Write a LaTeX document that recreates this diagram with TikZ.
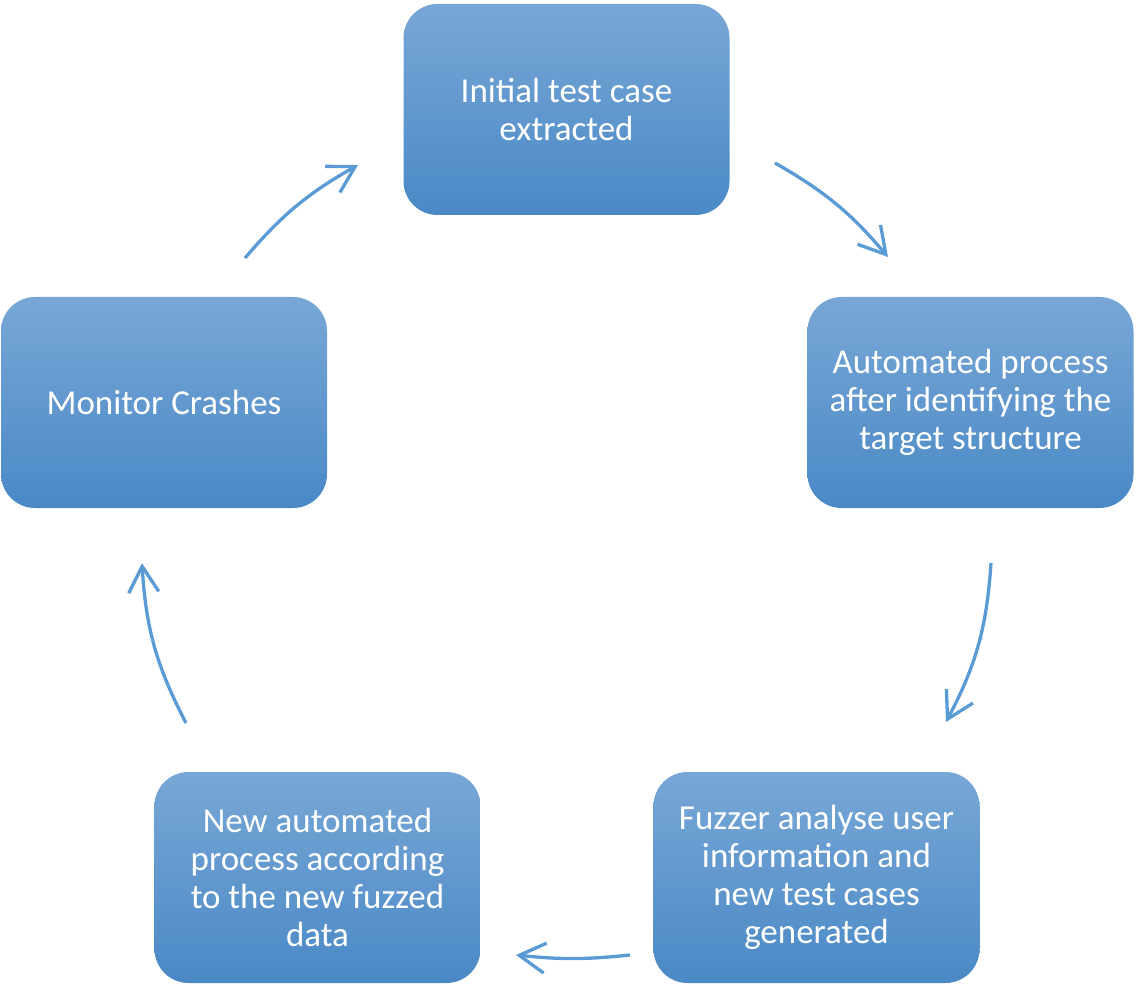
\documentclass[tikz,border=0pt]{standalone}
\usepackage{fontspec}
\setmainfont{Carlito}
\usetikzlibrary{arrows.meta}
\definecolor{boxtop}{RGB}{120,167,214}
\definecolor{boxbot}{RGB}{74,137,198}
\definecolor{arr}{RGB}{91,155,213}
\begin{document}
\begin{tikzpicture}[x=1pt,y=1pt,
  stagebox/.style={rounded corners=34pt, top color=boxtop, bottom color=boxbot,
    draw=none, minimum width=326pt, minimum height=211pt, text=white,
    font=\fontsize{35}{38}\selectfont, align=center, inner sep=0pt},
  cyc/.style={arr, line width=3.3pt, bend left=10,
    -{Straight Barb[length=26pt,width=30pt,line width=3.3pt]}}]
\useasboundingbox (0,0) rectangle (1138,-984);
\node[stagebox] (top) at (566.5,-109.5) {Initial test case\\extracted};
\node[stagebox] (right) at (970.5,-402.5) {Automated process\\after identifying the\\target structure};
\node[stagebox] (br) at (816.5,-877.5) {Fuzzer analyse user\\information and\\new test cases\\generated};
\node[stagebox] (bl) at (317.5,-877.5) {New automated\\process according\\to the new fuzzed\\data};
\node[stagebox] (left) at (164,-402.5) {Monitor Crashes};
\coordinate (a1s) at (245,-258); \coordinate (a1e) at (358,-165);
\coordinate (a2s) at (775,-163); \coordinate (a2e) at (888,-257);
\coordinate (a3s) at (991,-563); \coordinate (a3e) at (946,-722);
\coordinate (a4s) at (630,-955); \coordinate (a4e) at (516,-955);
\coordinate (a5s) at (186,-723); \coordinate (a5e) at (142,-563);
\draw[cyc] (a1s) to (a1e);
\draw[cyc] (a2s) to (a2e);
\draw[cyc,bend left=12] (a3s) to (a3e);
\draw[cyc,bend left=6] (a4s) to (a4e);
\draw[cyc,bend left=12] (a5s) to (a5e);
\end{tikzpicture}
\end{document}
